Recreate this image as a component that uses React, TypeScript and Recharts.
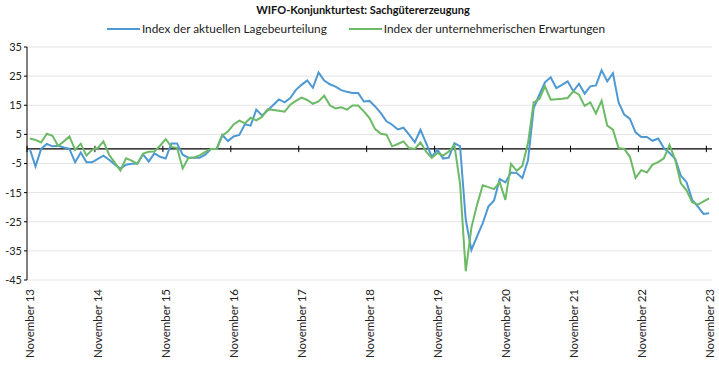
import React from "react";
import {
  LineChart, Line, XAxis, YAxis, CartesianGrid, ReferenceLine,
} from "recharts";

// Monatswerte Nov 2013 - Nov 2023 (Saldo)
const lage = [
  0, -6, 0, 1.7, 0.9, 1.1, 0.5, 0, -4.6, -1.2, -4.6, -4.6,
  -3.4, -2.3, -3.7, -5.3, -6.8, -5.4, -5.1, -5, -1.9, -4.3, -1.5, -2.7,
  -3.3, 1.9, 1.9, -2, -3, -3, -3, -2, 0, 0, 4.8, 2.7,
  4.3, 4.8, 8.5, 8, 13.5, 11.5, 13.2, 15.1, 17, 16, 17.5, 20.3,
  22, 23.5, 21, 26.3, 23.5, 22.2, 21.4, 20.2, 19.6, 19.2, 19.2, 16.3,
  16.5, 14.6, 12.3, 9.5, 8.3, 6.7, 7.3, 4.9, 2.3, 6.6, 2, -2.7,
  -0.3, -3.3, -3, 2, 0.9, -24.3, -34.7, -30, -25.5, -19.8, -17.7, -10.3,
  -11.5, -8.1, -8.3, -10, -3.9, 14, 18.6, 22.9, 24.6, 20.9, 22, 23.2,
  19.8, 22.4, 19, 21.5, 21.8, 27, 23.2, 26, 16, 11.8, 10.3, 5.7,
  4.1, 4.1, 2.8, 3.6, 0.3, -1.4, -3.4, -9.2, -11.4, -17.5, -19.8, -22.3,
  -22.1,
];

const erwartungen = [
  3.6, 3.1, 2.2, 5.2, 4.5, 1, 2.6, 4.3, -0.3, 1.8, -2.3, -0.3,
  0.3, 2.6, -2, -4.7, -7.4, -3.2, -4, -5.1, -1.6, -1, -0.9, 1.1,
  3.4, 0.7, 0.4, -6.7, -3.1, -2.9, -2.2, -1, 0, 0, 4.6, 6,
  8.4, 9.7, 8.8, 10.7, 9.8, 11, 13.6, 13.4, 13.1, 12.8, 15.2, 16.5,
  17.6, 16.8, 15.5, 16.3, 18.3, 15, 13.9, 14.3, 13.5, 14.9, 14.9, 12.9,
  10.6, 6.8, 5.2, 4.9, 0.9, 1.7, 2.6, 0.3, 0, 2.2, -0.9, -3.1,
  -1.4, -2.3, -0.9, 1.3, -12, -42, -27, -19.2, -12.5, -13.1, -13.8, -11.4,
  -17.5, -5.1, -7.5, -5.8, 2, 16, 17.1, 21.5, 16.9, 17.1, 17.2, 17.5,
  19.8, 18.6, 14.8, 16, 12.2, 16.6, 8, 6.6, 0.3, 0, -2.7, -10,
  -7.3, -8.1, -5.4, -4.5, -3.2, 1.4, -3.7, -11.8, -14.2, -18.3, -19.1, -18,
  -17,
];

const tickLabels = [
  "November 13", "November 14", "November 15", "November 16", "November 17", "November 18",
  "November 19", "November 20", "November 21", "November 22", "November 23",
];

const yTicks = [-45, -35, -25, -15, -5, 5, 15, 25, 35];

const BLUE = "#4E98D3";
const GREEN = "#6CBA65";
const FONT = "Lato, sans-serif";

const series = [
  { key: "lage", name: "Index der aktuellen Lagebeurteilung", color: BLUE },
  { key: "erw", name: "Index der unternehmerischen Erwartungen", color: GREEN },
];

const data = lage.map((v, i) => ({ i, lage: v, erw: erwartungen[i] }));
const xTicks = tickLabels.map((_, k) => k * 12);
// Teilstriche an der Nulllinie (Jahresgrenzen)
const yearBounds = tickLabels.map((_, k) => k * 12 - 0.5);

const XTick = (props: any) => {
  const { x, y, payload } = props;
  const label = tickLabels[Math.round(payload.value / 12)];
  const ty = y + 7;
  return (
    <text
      x={x}
      y={ty}
      transform={`rotate(-90 ${x} ${ty})`}
      textAnchor="end"
      dominantBaseline="central"
      fontSize={11.5}
      fontFamily={FONT}
      fill="#222"
    >
      {label}
    </text>
  );
};

export default function App() {
  return (
    <div style={{ position: "absolute", left: 0, top: 0, width: 719, height: 369, background: "#fff" }}>
      <div
        style={{
          position: "absolute", top: 3, left: 0, width: 726, textAlign: "center",
          fontFamily: FONT, fontWeight: 700, fontSize: 11, color: "#111",
        }}
      >
        WIFO-Konjunkturtest: Sachgütererzeugung
      </div>
      <div
        style={{
          position: "absolute", top: 21, left: 0, width: 712, display: "flex", justifyContent: "center",
          fontFamily: FONT, fontSize: 11.8, color: "#222",
        }}
      >
        {series.map((s, k) => (
          <div key={s.key} style={{ display: "flex", alignItems: "center", marginLeft: k ? 22 : 0 }}>
            <span style={{ display: "inline-block", width: 33, height: 2, background: s.color, marginRight: 2 }} />
            <span>{s.name}</span>
          </div>
        ))}
      </div>
      <LineChart width={719} height={369} data={data} margin={{ top: 47, right: 7, bottom: 0, left: 0 }}>
        <CartesianGrid horizontal vertical={false} stroke="#e4e4e4" />
        <XAxis
          dataKey="i"
          type="number"
          domain={[-0.5, 120.5]}
          ticks={xTicks}
          interval={0}
          tick={<XTick />}
          axisLine={false}
          tickLine={false}
          tickSize={0}
          height={89}
        />
        <YAxis
          domain={[-45, 35]}
          ticks={yTicks}
          interval={0}
          width={27}
          axisLine={{ stroke: "#000" }}
          tickLine={{ stroke: "#000" }}
          tickSize={3}
          tick={{ fontSize: 11, fontFamily: FONT, fill: "#222" }}
        />
        <ReferenceLine y={0} stroke="#000" strokeWidth={1.3} />
        {yearBounds.map((b) => (
          <ReferenceLine
            key={b}
            segment={[{ x: b, y: -1.1 }, { x: b, y: 1.1 }]}
            stroke="#000"
            strokeWidth={1}
          />
        ))}
        {series.map((s) => (
          <Line
            key={s.key}
            type="linear"
            dataKey={s.key}
            stroke={s.color}
            strokeWidth={2}
            dot={false}
            isAnimationActive={false}
          />
        ))}
      </LineChart>
    </div>
  );
}
